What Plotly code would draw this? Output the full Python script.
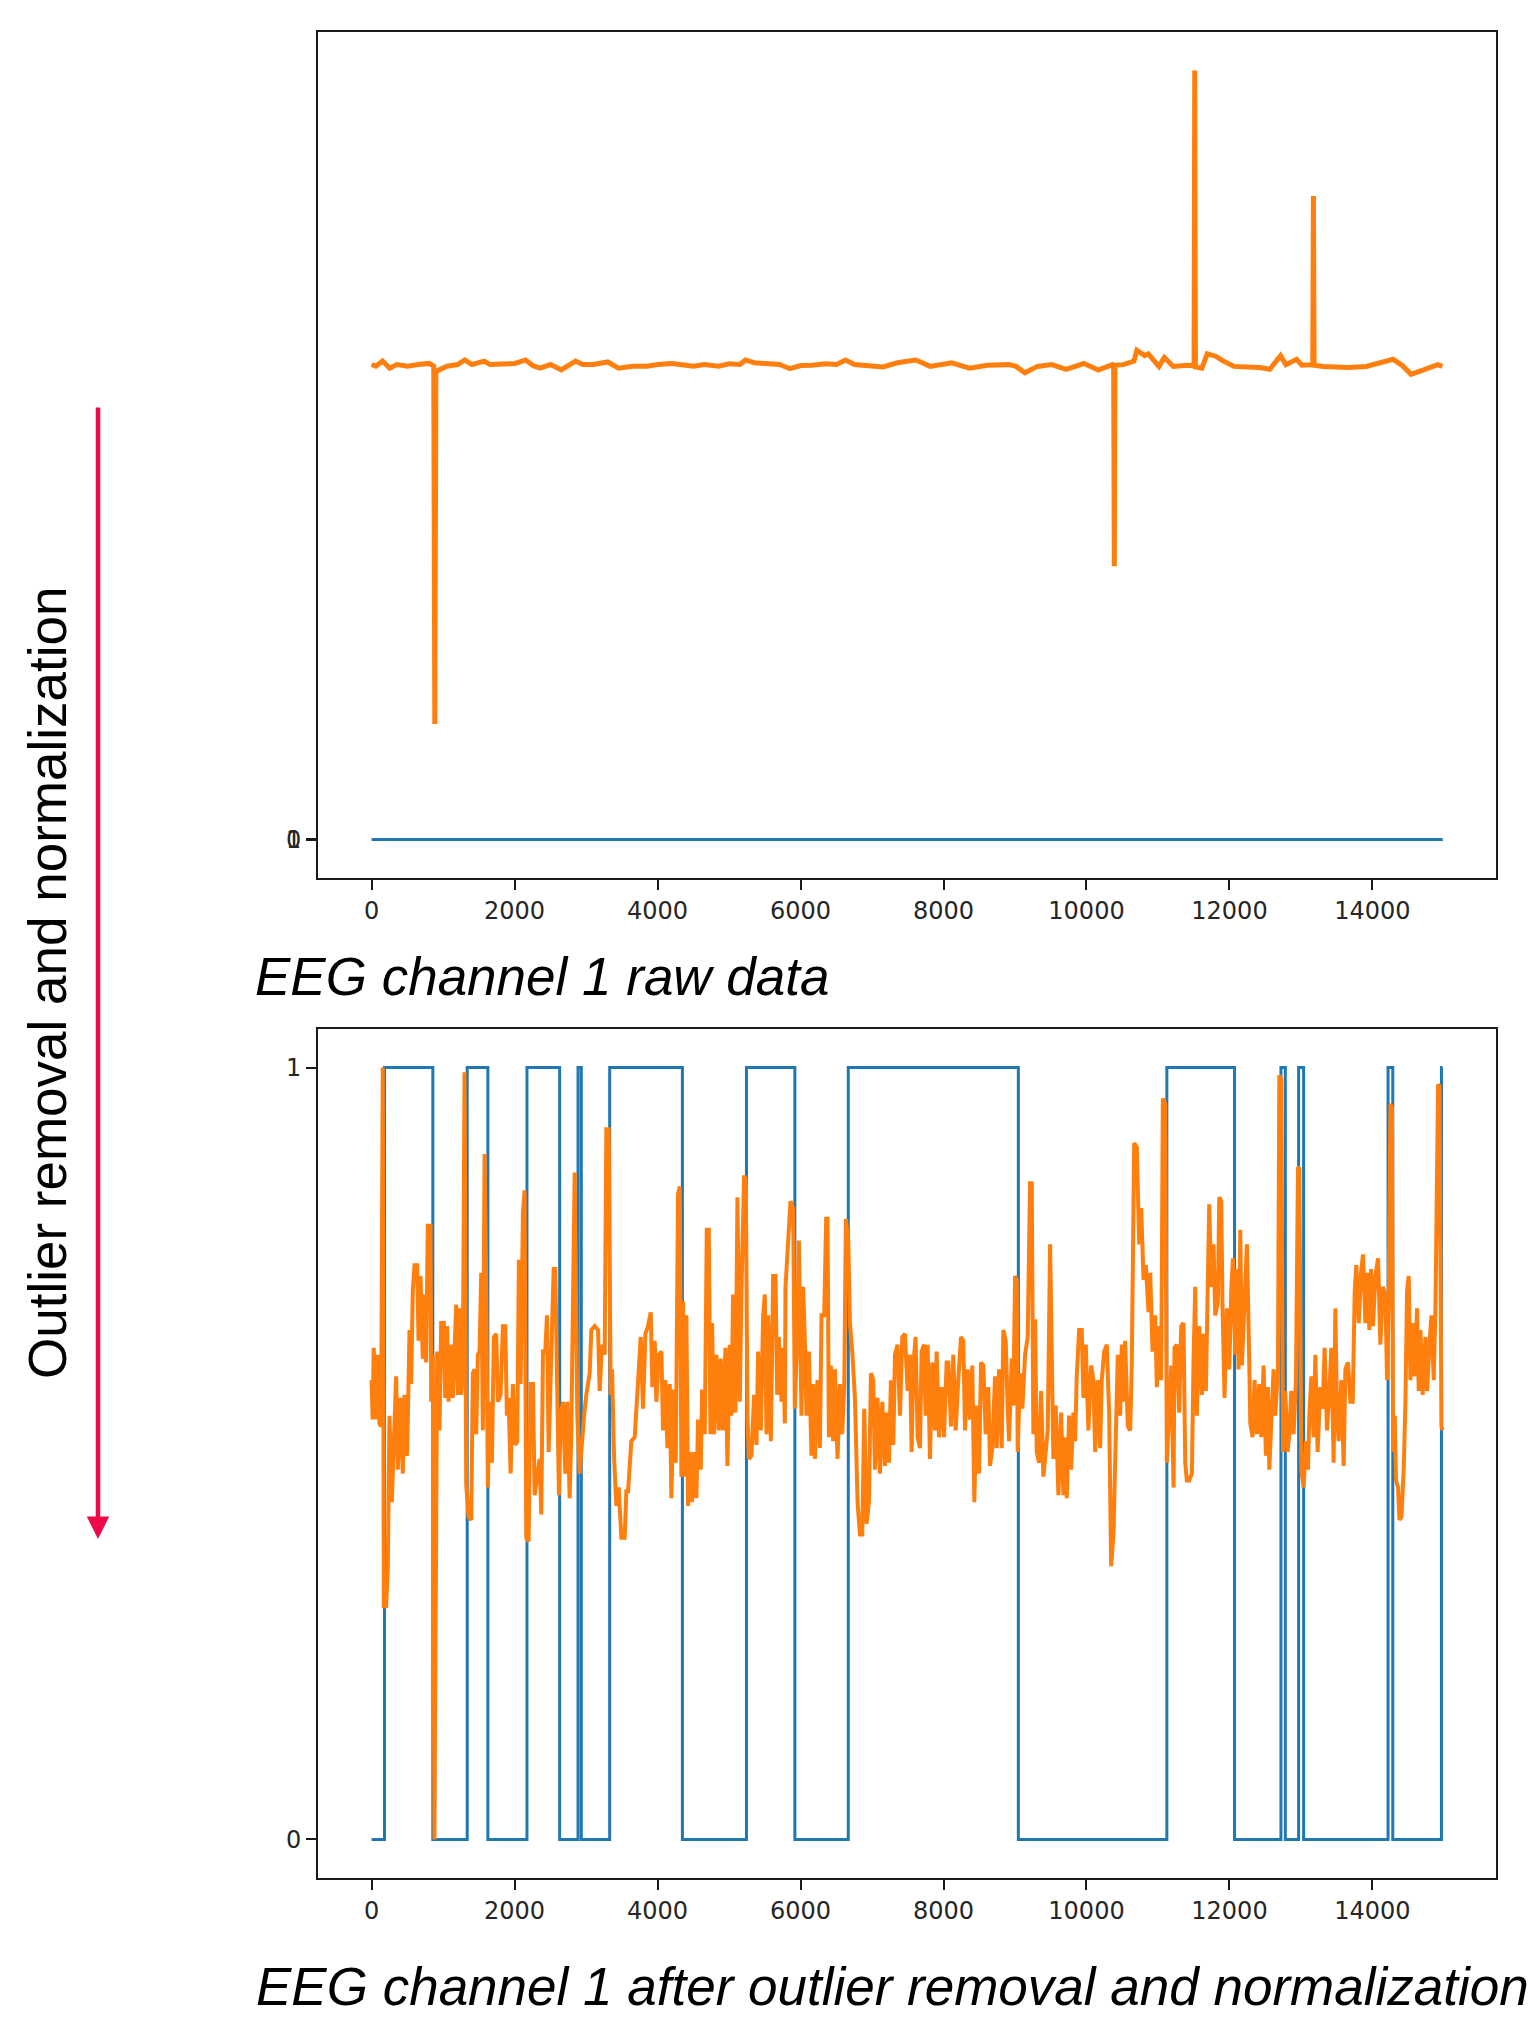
import plotly.graph_objects as go

W, H = 1533, 2017

# ---------------- data ----------------
# eye-state label (step signal), sample index of each change
blue_x = [0, 181, 857, 1338, 1627, 2174, 2631, 2888, 2934, 3331, 4348, 5244, 5921,
          6668, 9047, 11124, 12071, 12720, 12781, 12967, 13037, 14218, 14284, 14965, 14979]
blue_y = [0, 1, 0, 1, 0, 1, 0, 1, 0, 1, 0, 1, 0, 1, 0, 1, 0, 1, 0, 1, 0, 1, 0, 1, 1]

# raw EEG channel 1 (top panel)
raw_x = [0, 60, 154, 254, 354, 504, 654, 804, 870, 885, 900, 1054, 1204, 1304, 1404, 1579,
         1654, 1854, 2004, 2154, 2254, 2354, 2504, 2654, 2854, 2954, 3104, 3304, 3454, 3654,
         3854, 4004, 4204, 4504, 4654, 4854, 5004, 5154, 5229, 5354, 5504, 5704, 5854, 6004,
         6154, 6354, 6504, 6629, 6754, 6954, 7154, 7354, 7554, 7614, 7814, 8114, 8364, 8614,
         8914, 9014, 9139, 9314, 9514, 9714, 9964, 10164, 10364, 10380, 10389, 10398, 10514,
         10664, 10704, 10814, 10864, 11014, 11089, 11214, 11414, 11505, 11514, 11524, 11614,
         11689, 11814, 11914, 12064, 12264, 12414, 12564, 12714, 12789, 12939, 13014, 13165,
         13174, 13184, 13314, 13664, 13914, 14289, 14414, 14539, 14714, 14914, 14979]
raw_y = [4292, 4277, 4323, 4259, 4292, 4277, 4292, 4302, 4277, 1044, 4230, 4277, 4292, 4333,
         4292, 4323, 4292, 4292, 4302, 4333, 4283, 4259, 4292, 4243, 4323, 4292, 4292, 4315,
         4259, 4277, 4277, 4292, 4302, 4277, 4292, 4277, 4299, 4292, 4333, 4308, 4302, 4292,
         4254, 4283, 4286, 4299, 4292, 4333, 4292, 4277, 4270, 4308, 4323, 4333, 4275, 4307,
         4259, 4285, 4291, 4275, 4217, 4275, 4291, 4249, 4301, 4243, 4291, 4280, 2469, 4285,
         4291, 4323, 4420, 4372, 4388, 4275, 4356, 4275, 4285, 4280, 6949, 4270, 4259, 4388,
         4365, 4323, 4275, 4275, 4265, 4249, 4372, 4291, 4339, 4285, 4290, 5815, 4285, 4275,
         4265, 4275, 4339, 4285, 4204, 4243, 4291, 4275]

# EEG channel 1 after outlier removal and normalization (bottom panel)
norm_x = [0, 15, 30, 65, 87, 110, 134, 157, 171, 204, 227, 251, 283, 321, 344, 367, 405, 437,
          461, 498, 531, 554, 577, 601, 638, 657, 685, 717, 741, 764, 787, 825, 834, 857, 880,
          918, 951, 974, 1011, 1030, 1058, 1077, 1105, 1137, 1161, 1184, 1207, 1231, 1254,
          1277, 1301, 1324, 1357, 1394, 1417, 1441, 1464, 1487, 1511, 1534, 1557, 1581, 1604,
          1627, 1651, 1683, 1711, 1744, 1767, 1805, 1837, 1870, 1893, 1917, 1945, 1977, 2010,
          2038, 2061, 2085, 2118, 2141, 2164, 2197, 2225, 2258, 2281, 2318, 2351, 2374, 2398,
          2430, 2454, 2477, 2514, 2547, 2570, 2598, 2621, 2645, 2678, 2710, 2738, 2771, 2794,
          2841, 2878, 2911, 2944, 2972, 3004, 3051, 3074, 3121, 3168, 3191, 3224, 3261, 3284,
          3317, 3345, 3364, 3392, 3424, 3457, 3494, 3541, 3564, 3588, 3634, 3681, 3728, 3765,
          3797, 3830, 3867, 3905, 3928, 3961, 3984, 4017, 4054, 4077, 4110, 4138, 4171, 4194,
          4227, 4255, 4287, 4311, 4334, 4357, 4381, 4404, 4427, 4451, 4483, 4511, 4544, 4567,
          4605, 4623, 4661, 4689, 4717, 4740, 4763, 4791, 4824, 4857, 4885, 4917, 4950, 4978,
          5011, 5034, 5057, 5090, 5118, 5151, 5174, 5211, 5235, 5258, 5277, 5314, 5351, 5384,
          5407, 5445, 5477, 5501, 5524, 5547, 5585, 5617, 5650, 5673, 5697, 5734, 5757, 5781,
          5790, 5827, 5860, 5897, 5921, 5953, 5977, 6014, 6037, 6061, 6084, 6117, 6154, 6177,
          6201, 6238, 6271, 6294, 6331, 6359, 6378, 6397, 6425, 6457, 6481, 6518, 6551, 6584,
          6612, 6635, 6668, 6691, 6724, 6761, 6798, 6831, 6864, 6892, 6924, 6957, 6985, 7018,
          7041, 7078, 7111, 7144, 7181, 7204, 7237, 7265, 7298, 7321, 7358, 7391, 7424, 7461,
          7498, 7531, 7554, 7577, 7610, 7638, 7671, 7694, 7727, 7750, 7778, 7811, 7843, 7881,
          7904, 7937, 7974, 8007, 8044, 8067, 8105, 8137, 8170, 8207, 8245, 8277, 8301, 8338,
          8371, 8403, 8431, 8464, 8497, 8525, 8557, 8590, 8627, 8651, 8683, 8721, 8744, 8777,
          8814, 8837, 8870, 8898, 8917, 8954, 8977, 9001, 9024, 9038, 9071, 9103, 9141, 9178,
          9211, 9234, 9257, 9281, 9304, 9337, 9365, 9397, 9430, 9458, 9491, 9514, 9537, 9570,
          9607, 9645, 9677, 9701, 9724, 9757, 9785, 9817, 9841, 9864, 9897, 9934, 9957, 9990,
          10027, 10065, 10097, 10121, 10158, 10191, 10214, 10247, 10284, 10317, 10345, 10377,
          10410, 10438, 10471, 10494, 10517, 10541, 10578, 10611, 10634, 10667, 10704, 10737,
          10765, 10798, 10830, 10868, 10891, 10924, 10961, 10984, 11017, 11045, 11068, 11101,
          11124, 11148, 11185, 11218, 11231, 11264, 11297, 11325, 11357, 11381, 11404, 11437,
          11474, 11497, 11521, 11544, 11577, 11614, 11637, 11670, 11698, 11717, 11745, 11777,
          11801, 11838, 11857, 11885, 11903, 11931, 11964, 11997, 12025, 12048, 12081, 12109,
          12127, 12151, 12174, 12211, 12244, 12277, 12291, 12323, 12351, 12384, 12417, 12445,
          12477, 12510, 12538, 12557, 12585, 12617, 12641, 12678, 12697, 12725, 12748, 12781,
          12813, 12837, 12865, 12897, 12930, 12958, 12977, 13005, 13037, 13070, 13098, 13117,
          13145, 13178, 13201, 13233, 13271, 13303, 13331, 13364, 13397, 13425, 13457, 13481,
          13504, 13527, 13565, 13597, 13621, 13658, 13691, 13724, 13752, 13775, 13808, 13840,
          13868, 13901, 13924, 13957, 13980, 14008, 14041, 14078, 14111, 14144, 14181, 14204,
          14227, 14251, 14274, 14288, 14311, 14330, 14358, 14377, 14405, 14437, 14461, 14484,
          14507, 14531, 14563, 14591, 14624, 14647, 14671, 14703, 14741, 14764, 14797, 14825,
          14857, 14881, 14918, 14937, 14965, 14979]
norm_y = [0.595, 0.544, 0.637, 0.544, 0.628, 0.539, 0.535, 1.0, 0.302, 0.302, 0.349, 0.549,
          0.437, 0.553, 0.600, 0.479, 0.572, 0.474, 0.576, 0.497, 0.660, 0.590, 0.711, 0.744,
          0.744, 0.646, 0.730, 0.623, 0.706, 0.618, 0.795, 0.795, 0.567, 0.628, 0.0, 0.632,
          0.530, 0.669, 0.669, 0.572, 0.665, 0.567, 0.641, 0.572, 0.632, 0.693, 0.576, 0.688,
          0.576, 0.614, 0.994, 0.460, 0.418, 0.414, 0.604, 0.609, 0.525, 0.628, 0.632, 0.734,
          0.530, 0.888, 0.716, 0.456, 0.567, 0.488, 0.651, 0.655, 0.567, 0.576, 0.665, 0.665,
          0.549, 0.572, 0.474, 0.590, 0.511, 0.516, 0.751, 0.590, 0.813, 0.841, 0.391, 0.386,
          0.590, 0.590, 0.446, 0.474, 0.493, 0.421, 0.632, 0.632, 0.679, 0.502, 0.628, 0.739,
          0.739, 0.525, 0.446, 0.549, 0.567, 0.474, 0.567, 0.442, 0.525, 0.864, 0.549, 0.474,
          0.521, 0.549, 0.576, 0.604, 0.660, 0.665, 0.660, 0.581, 0.641, 0.628, 0.920, 0.920,
          0.576, 0.609, 0.497, 0.432, 0.456, 0.391, 0.391, 0.451, 0.451, 0.516, 0.521, 0.595,
          0.651, 0.558, 0.655, 0.665, 0.683, 0.586, 0.646, 0.567, 0.628, 0.632, 0.530, 0.595,
          0.507, 0.590, 0.442, 0.583, 0.488, 0.836, 0.846, 0.470, 0.697, 0.470, 0.679, 0.432,
          0.502, 0.437, 0.502, 0.442, 0.544, 0.479, 0.583, 0.525, 0.790, 0.790, 0.525, 0.669,
          0.525, 0.628, 0.530, 0.623, 0.530, 0.637, 0.484, 0.641, 0.549, 0.706, 0.553, 0.832,
          0.567, 0.711, 0.860, 0.855, 0.549, 0.493, 0.497, 0.576, 0.511, 0.632, 0.530, 0.679,
          0.706, 0.525, 0.679, 0.516, 0.730, 0.730, 0.576, 0.651, 0.567, 0.637, 0.539, 0.716,
          0.776, 0.827, 0.818, 0.558, 0.651, 0.776, 0.549, 0.716, 0.646, 0.549, 0.632, 0.497,
          0.590, 0.493, 0.595, 0.507, 0.679, 0.679, 0.804, 0.804, 0.521, 0.614, 0.516, 0.609,
          0.493, 0.590, 0.525, 0.590, 0.804, 0.776, 0.669, 0.632, 0.572, 0.437, 0.395, 0.395,
          0.558, 0.409, 0.437, 0.604, 0.595, 0.479, 0.572, 0.474, 0.567, 0.484, 0.553, 0.488,
          0.595, 0.511, 0.628, 0.641, 0.549, 0.651, 0.655, 0.581, 0.628, 0.502, 0.614, 0.651,
          0.521, 0.507, 0.632, 0.641, 0.549, 0.641, 0.493, 0.618, 0.530, 0.632, 0.521, 0.586,
          0.521, 0.618, 0.618, 0.535, 0.628, 0.530, 0.595, 0.651, 0.646, 0.530, 0.609, 0.544,
          0.614, 0.437, 0.562, 0.474, 0.618, 0.614, 0.525, 0.586, 0.484, 0.507, 0.600, 0.507,
          0.609, 0.507, 0.660, 0.646, 0.558, 0.516, 0.623, 0.562, 0.730, 0.725, 0.502, 0.604,
          0.558, 0.628, 0.651, 0.850, 0.850, 0.525, 0.674, 0.502, 0.488, 0.581, 0.470, 0.511,
          0.530, 0.771, 0.609, 0.493, 0.562, 0.446, 0.553, 0.446, 0.521, 0.442, 0.549, 0.479,
          0.553, 0.516, 0.600, 0.660, 0.660, 0.572, 0.641, 0.530, 0.614, 0.595, 0.502, 0.595,
          0.507, 0.595, 0.632, 0.641, 0.553, 0.354, 0.395, 0.511, 0.628, 0.549, 0.641, 0.567,
          0.646, 0.535, 0.530, 0.618, 0.902, 0.897, 0.771, 0.818, 0.725, 0.744, 0.683, 0.734,
          0.632, 0.679, 0.586, 0.665, 0.595, 0.960, 0.953, 0.488, 0.549, 0.614, 0.456, 0.637,
          0.641, 0.553, 0.665, 0.669, 0.488, 0.465, 0.465, 0.474, 0.618, 0.716, 0.549, 0.665,
          0.576, 0.655, 0.581, 0.771, 0.823, 0.716, 0.771, 0.679, 0.697, 0.832, 0.827, 0.688,
          0.572, 0.688, 0.609, 0.711, 0.753, 0.628, 0.739, 0.609, 0.790, 0.614, 0.706, 0.771,
          0.618, 0.539, 0.521, 0.595, 0.525, 0.590, 0.521, 0.614, 0.497, 0.586, 0.479, 0.544,
          0.609, 0.549, 0.609, 0.990, 0.985, 0.502, 0.581, 0.502, 0.525, 0.581, 0.525, 0.595,
          0.871, 0.869, 0.479, 0.456, 0.516, 0.479, 0.549, 0.600, 0.521, 0.628, 0.502, 0.586,
          0.558, 0.637, 0.530, 0.581, 0.637, 0.488, 0.688, 0.549, 0.516, 0.595, 0.484, 0.609,
          0.618, 0.567, 0.567, 0.711, 0.744, 0.669, 0.734, 0.758, 0.669, 0.734, 0.660, 0.739,
          0.665, 0.730, 0.753, 0.641, 0.716, 0.706, 0.595, 0.697, 0.953, 0.948, 0.502, 0.549,
          0.465, 0.456, 0.414, 0.418, 0.479, 0.567, 0.711, 0.730, 0.595, 0.669, 0.600, 0.688,
          0.581, 0.660, 0.576, 0.651, 0.581, 0.641, 0.679, 0.595, 0.688, 0.978, 0.976, 0.535,
          0.530]

x_ticks = [0, 2000, 4000, 6000, 8000, 10000, 12000, 14000]
x_tick_labels = ["0", "2000", "4000", "6000", "8000", "10000", "12000", "14000"]
y_ticks = [0, 1]
y_tick_labels = ["0", "1"]

title_top = "EEG channel 1 raw data"
title_bottom = "EEG channel 1 after outlier removal and normalization"
side_label = "Outlier removal and normalization"

# ---------------- figure ----------------
BLUE = "#1f77b4"
ORANGE = "#ff7f0e"
TICKFONT = dict(family="DejaVu Sans", size=24, color="#262626")

fig = go.Figure()
fig.add_trace(go.Scatter(x=blue_x, y=blue_y, mode="lines", line=dict(color=BLUE, width=3, shape="hv"),
                         xaxis="x", yaxis="y", showlegend=False))
fig.add_trace(go.Scatter(x=raw_x, y=raw_y, mode="lines", line=dict(color=ORANGE, width=5),
                         xaxis="x", yaxis="y", showlegend=False))
fig.add_trace(go.Scatter(x=blue_x, y=blue_y, mode="lines", line=dict(color=BLUE, width=3, shape="hv"),
                         xaxis="x2", yaxis="y2", showlegend=False))
fig.add_trace(go.Scatter(x=norm_x, y=norm_y, mode="lines", line=dict(color=ORANGE, width=4),
                         xaxis="x2", yaxis="y2", showlegend=False))

n = 14980
xr = [-0.05 * (n - 1), 1.05 * (n - 1)]
pk = max(raw_y)
axis_common = dict(showline=True, linecolor="#1a1a1a", linewidth=1.6, mirror=True, showgrid=False,
                   zeroline=False, ticks="outside", ticklen=10, tickwidth=1.6, tickcolor="#1a1a1a",
                   tickfont=TICKFONT)

x0, x1 = 318 / W, 1496 / W
fig.update_layout(
    width=W, height=H, margin=dict(l=0, r=0, t=0, b=0),
    paper_bgcolor="white", plot_bgcolor="white",
    xaxis=dict(domain=[x0, x1], range=xr, tickvals=x_ticks, ticktext=x_tick_labels,
               anchor="y", **axis_common),
    yaxis=dict(domain=[1 - 878 / H, 1 - 32 / H], range=[-0.05 * pk, 1.05 * pk],
               tickvals=y_ticks, ticktext=y_tick_labels, anchor="x", **axis_common),
    xaxis2=dict(domain=[x0, x1], range=xr, tickvals=x_ticks, ticktext=x_tick_labels,
                anchor="y2", **axis_common),
    yaxis2=dict(domain=[1 - 1878 / H, 1 - 1029 / H], range=[-0.05, 1.05],
                tickvals=y_ticks, ticktext=y_tick_labels, anchor="x2", **axis_common),
)

TFONT = dict(family="Liberation Sans, Arial", size=53, color="black")
fig.add_annotation(text="<i>" + title_top + "</i>", xref="paper", yref="paper",
                   x=253 / W, y=1 - 976 / H, xanchor="left", yanchor="middle",
                   showarrow=False, font=TFONT)
fig.add_annotation(text="<i>" + title_bottom + "</i>", xref="paper", yref="paper",
                   x=254 / W, y=1 - 1986 / H, xanchor="left", yanchor="middle",
                   showarrow=False, font=TFONT)
fig.add_annotation(text=side_label, xref="paper", yref="paper", x=47 / W, y=1 - 983 / H,
                   xanchor="center", yanchor="middle", textangle=-90, showarrow=False, font=TFONT)
fig.add_annotation(text="", xref="paper", yref="paper", x=98 / W, y=1 - 1539 / H,
                   axref="pixel", ayref="pixel", ax=0, ay=-1133, showarrow=True,
                   arrowhead=2, arrowsize=1.0, arrowwidth=4.5, arrowcolor="#EE0A48")

fig.write_html("out.html", config={"displayModeBar": False},
               post_script="document.body.style.margin='0';")
